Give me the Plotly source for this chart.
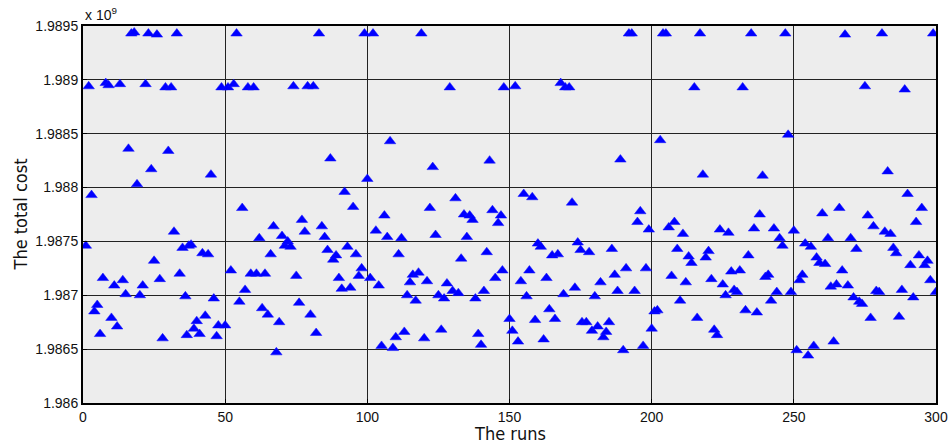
import plotly.graph_objects as go

runs = [1,2,3,4,5,6,7,8,9,10,11,12,13,14,15,16,17,18,19,20,21,22,23,24,25,26,27,28,29,30,
        31,32,33,34,35,36,36.5,37.2,38,39,40,41,42,43,44,45,46,47,47.6,48.7,50,51,52,53,54,55,56,57,58,59,
        60,61,62,63,64,65,66,67,68,69,70,71,72,73,74,75,76,77,78,79,80,81,82,83,84,85,86,87,88,89,
        90,91,92,93,94,95,96,97,98,99,100,101,102,103,104,105,106,107,108,109,110,111,112,113,114,115,116,117,118,119,
        120,121,122,123,124,125,126,127,128,129,130,131,132,133,134,135,136,137,138,139,140,141,142,143,144,145,146,147,147.5,148,
        150,151,152,153,154,155,156,157,158,159,160,161,162,163,164,165,166,167,168,169,169.6,171,172,173,174,175,175.5,177,178,179,
        180,181,182,183,184,185,186,187,188,189,190,191,192,193,194,195,196,197,198,199,200,201,202,203,204,205,206,207,208,209,
        210,211,212,213,214,215,216,217,218,219,220,221,222,223,224,225,226,227,228,229,230,231,232,233,234,235,236,237,238,239,
        240,241,242,243,244,245,246,247,248,249,250,251,252,253,254,255,256,257,258,259,260,261,262,263,264,265,266,267,268,269,
        270,271,272,273,274,275,276,277,278,279,280,281,282,283,284,285,286,287,288,289,290,291,292,293,294,295,296,297,298,299,300]

cost = [1.98746,1.98894,1.98793,1.98685,1.98691,1.98664,1.98716,1.98897,1.98895,1.98679,
        1.98709,1.98671,1.98896,1.98714,1.98701,1.98836,1.98943,1.98944,1.98803,1.98700,
        1.98709,1.98896,1.98943,1.98817,1.98732,1.98942,1.98715,1.98660,1.98893,1.98834,
        1.98893,1.98759,1.98943,1.98720,1.98744,1.98699,1.98663,1.98746,1.98747,1.98669,
        1.98676,1.98664,1.98739,1.98681,1.98738,1.98812,1.98697,1.98662,1.98672,1.98893,
        1.98672,1.98893,1.98723,1.98896,1.98943,1.98694,1.98781,1.98705,1.98893,1.98720,
        1.98893,1.98720,1.98753,1.98688,1.98720,1.98682,1.98738,1.98764,1.98647,1.98675,
        1.98755,1.98746,1.98750,1.98745,1.98894,1.98718,1.98693,1.98770,1.98759,1.98894,
        1.98682,1.98894,1.98665,1.98943,1.98764,1.98754,1.98742,1.98827,1.98733,1.98737,
        1.98716,1.98706,1.98796,1.98745,1.98707,1.98782,1.98738,1.98718,1.98725,1.98943,
        1.98808,1.98716,1.98943,1.98760,1.98709,1.98653,1.98774,1.98754,1.98843,1.98651,
        1.98661,1.98738,1.98753,1.98666,1.98700,1.98712,1.98719,1.98695,1.98721,1.98943,
        1.98660,1.98713,1.98781,1.98819,1.98756,1.98700,1.98668,1.98697,1.98711,1.98893,
        1.98704,1.98790,1.98702,1.98734,1.98775,1.98754,1.98774,1.98770,1.98697,1.98664,
        1.98654,1.98704,1.98740,1.98825,1.98779,1.98716,1.98767,1.98774,1.98723,1.98893,
        1.98678,1.98667,1.98894,1.98657,1.98713,1.98794,1.98699,1.98723,1.98791,1.98677,
        1.98748,1.98745,1.98659,1.98716,1.98687,1.98737,1.98678,1.98738,1.98897,1.98701,
        1.98893,1.98893,1.98786,1.98707,1.98749,1.98742,1.98675,1.98675,1.98740,1.98667,
        1.98699,1.98671,1.98712,1.98661,1.98666,1.98675,1.98743,1.98719,1.98704,1.98826,
        1.98649,1.98725,1.98943,1.98943,1.98704,1.98768,1.98778,1.98653,1.98725,1.98761,
        1.98669,1.98685,1.98686,1.98844,1.98943,1.98943,1.98763,1.98718,1.98768,1.98743,
        1.98695,1.98757,1.98712,1.98736,1.98730,1.98893,1.98679,1.98943,1.98812,1.98735,
        1.98741,1.98715,1.98668,1.98663,1.98761,1.98710,1.98700,1.98758,1.98722,1.98705,
        1.98703,1.98723,1.98893,1.98686,1.98737,1.98943,1.98762,1.98684,1.98775,1.98811,
        1.98717,1.98719,1.98695,1.98762,1.98703,1.98753,1.98746,1.98943,1.98849,1.98703,
        1.98760,1.98649,1.98714,1.98719,1.98748,1.98644,1.98745,1.98653,1.98735,1.98730,
        1.98776,1.98729,1.98753,1.98708,1.98657,1.98710,1.98781,1.98723,1.98942,1.98709,
        1.98753,1.98698,1.98743,1.98694,1.98692,1.98894,1.98774,1.98679,1.98764,1.98704,
        1.98703,1.98943,1.98759,1.98815,1.98757,1.98744,1.98739,1.98680,1.98705,1.98891,
        1.98794,1.98728,1.98698,1.98768,1.98737,1.98781,1.98728,1.98732,1.98714,1.98943,
        1.98703]

x_ticks = [0, 50, 100, 150, 200, 250, 300]
y_ticks = [1.986, 1.9865, 1.987, 1.9875, 1.988, 1.9885, 1.989, 1.9895]
y_labels = ["1.986", "1.9865", "1.987", "1.9875", "1.988", "1.9885", "1.989", "1.9895"]

n = min(len(runs), len(cost))
fig = go.Figure()
fig.add_trace(go.Scatter(
    x=runs[:n], y=cost[:n], mode="markers",
    marker=dict(symbol="triangle-up", size=10, color="#0000FF",
                line=dict(color="#1010FF", width=0.5)),
    showlegend=False, hoverinfo="x+y"))

tickfont = dict(family="Liberation Sans, Arial, sans-serif", size=14, color="#111111")
titlefont = dict(family="Liberation Sans Narrow, DejaVu Sans Condensed, sans-serif", size=18, color="#111111")

fig.update_layout(
    width=948, height=445,
    margin=dict(l=83, r=12, t=26, b=42),
    paper_bgcolor="white", plot_bgcolor="#EDEDED",
    xaxis=dict(range=[0, 300], tickvals=x_ticks, ticktext=[str(v) for v in x_ticks],
               showgrid=True, gridcolor="#222222", gridwidth=1,
               showline=True, linecolor="black", linewidth=2, mirror=True,
               ticks="inside", ticklen=4, tickcolor="black",
               zeroline=False, tickfont=tickfont, automargin=False),
    yaxis=dict(range=[1.986, 1.9895], tickvals=y_ticks, ticktext=y_labels,
               showgrid=True, gridcolor="#222222", gridwidth=1,
               showline=True, linecolor="black", linewidth=2, mirror=True,
               ticks="inside", ticklen=4, tickcolor="black",
               zeroline=False, tickfont=tickfont, automargin=False),
    annotations=[
        dict(text="x 10<sup>9</sup>", xref="paper", yref="paper",
             x=0, y=1.0, xanchor="left", yanchor="bottom", yshift=1, showarrow=False,
             font=dict(family="Liberation Sans, Arial, sans-serif", size=14, color="#111111")),
        dict(text="The runs", xref="paper", yref="paper", x=0.5, y=0, yshift=-18,
             xanchor="center", yanchor="top", showarrow=False, font=titlefont),
        dict(text="The total cost", xref="paper", yref="paper", x=0, xshift=-63, y=0.5,
             xanchor="center", yanchor="middle", textangle=-90, showarrow=False, font=titlefont),
    ],
)

fig.write_html("out.html", config={"displayModeBar": False},
               post_script="document.body.style.margin='0';document.body.style.padding='0';document.body.style.overflow='hidden';")
